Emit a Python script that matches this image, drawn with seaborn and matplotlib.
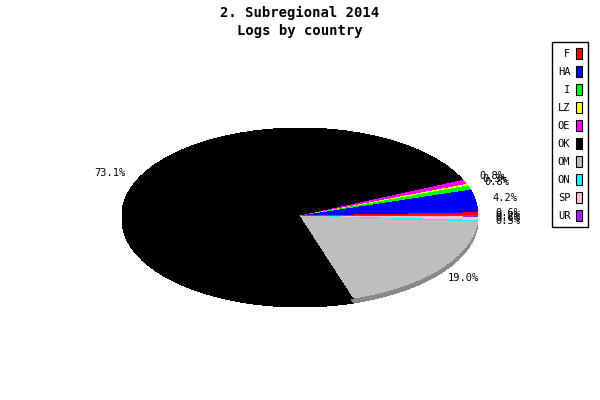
import matplotlib
matplotlib.use("Agg")
import matplotlib.pyplot as plt
import seaborn as sns
from matplotlib.patches import Patch
from matplotlib.colors import to_rgb

# ---- data ----
countries = ["F", "HA", "I", "LZ", "OE", "OK", "OM", "ON", "SP", "UR"]
shares = [0.6, 4.2, 0.8, 0.3, 0.8, 73.1, 19.0, 0.3, 0.6, 0.2]
colors = ["#ff0000", "#0000ff", "#00ff00", "#ffff00", "#ff00ff",
          "#000000", "#bebebe", "#00ffff", "#ffc0cb", "#a020f0"]
title_lines = ["2. Subregional 2014", "Logs by country"]
pct_labels = [f"{v:.1f}%" for v in shares]

sns.set_theme(style="white")
plt.rcParams['font.family'] = ['DejaVu Sans Mono', 'DejaVu Sans']
plt.rcParams['text.color'] = 'black'

fig = plt.figure(figsize=(6, 4), dpi=100)
ax = fig.add_axes([0, 0, 1, 1])

# ellipse geometry in pixels
cx_px, cy_px, rx_px, ry_px = 300, 215, 178, 87
depth = 5 / ry_px

dark = [tuple(0.72 * c for c in to_rgb(col)) for col in colors]

# 3D side (shifted, darker)
for k in range(1, 6):
    ax.pie(shares, colors=dark, startangle=0, counterclock=True,
           center=(0, -depth * k / 5), radius=1,
           wedgeprops=dict(linewidth=0, antialiased=False))

ax.pie(shares, colors=colors, startangle=0, counterclock=True,
       labels=pct_labels, labeldistance=1.17, radius=1,
       wedgeprops=dict(linewidth=0, antialiased=False),
       textprops=dict(fontsize=7.5, ha='center', color='black'))

ax.set_aspect('auto')
ax.set_xlim(-cx_px / rx_px, (600 - cx_px) / rx_px)
ax.set_ylim(-(400 - cy_px) / ry_px, cy_px / ry_px)
ax.axis('off')

fig.suptitle("\n".join(title_lines), x=0.5, y=1 - 6 / 400, va='top',
             fontsize=10, fontweight='bold', linespacing=1.35, color='black')

handles = [Patch(facecolor=c, edgecolor='black', linewidth=0.8) for c in colors]
leg = fig.legend(handles, countries, loc='upper right',
                 bbox_to_anchor=(588 / 600, 1 - 42 / 400),
                 markerfirst=False, frameon=True, fancybox=False,
                 edgecolor='black', framealpha=1, fontsize=7.5,
                 handlelength=0.6, handleheight=1.25, handletextpad=0.5,
                 labelspacing=0.67, borderpad=0.6, borderaxespad=0,
                 labelcolor='black')
leg.get_frame().set_linewidth(1)

fig.savefig("out.png", dpi=100, facecolor='white')
